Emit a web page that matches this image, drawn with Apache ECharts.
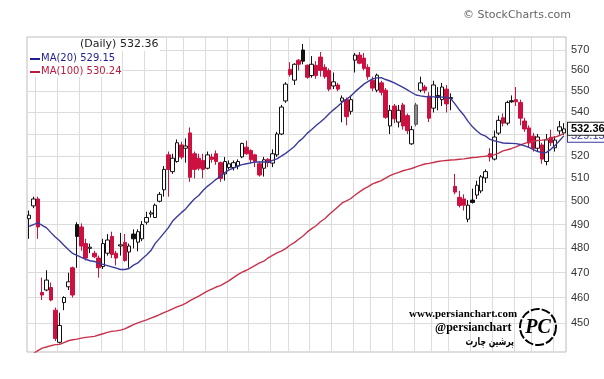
<!DOCTYPE html>
<html><head><meta charset="utf-8">
<script src="https://cdn.jsdelivr.net/npm/echarts@6/dist/echarts.min.js"></script>
<style>html,body{margin:0;padding:0;background:#fff}#c{width:604px;height:379px}</style>
</head><body><div id="c"></div>
<script>
// ---- data ----
const opens = [492.5,498,501,462,463,464,455,442.5,458,464.3,472,490,489,482,480,478,476,472.5,478,485,478,481,482.5,478.5,486,482.6,484,491,494.5,493,500,505,520.5,513,517.5,525,523.5,530.5,521,519,518,514.5,519.5,521,517,512,514.8,514.8,515.5,519.6,524,522.5,520.5,516.5,514.5,518.5,516.8,520.5,530,545.4,560.5,555.3,565,570,562.5,557.5,562.5,566.5,561.5,560,552.5,553,545.3,546,540.5,565,567.5,566,561.5,555.3,550.5,554,550.5,533.7,543,535.5,543.5,538.5,525.5,534.5,550.5,552,547.7,542,548,546,551,546.5,506.5,501.7,501,492.3,500.5,502.7,504.5,510.2,521,518.6,530.4,537.5,535,545.5,546,544.7,536,532.8,529,523.5,525,517.5,528.5,523.7,531.4,530.5];
const closes = [494,501,489,461,467,459,444,449,460,466.3,461,485,481,476,480.5,476.5,472,482,483.5,477.5,476,481.5,475,481,484,487,490,493,495,498.3,503,514,514,519,526,519.5,524.5,510.5,514,514.5,514,520.5,518.5,517.5,510,517.5,516.5,517,517.5,525.7,521,518.3,517.5,511.5,518.3,517,521,530,542.5,553.4,558,563,563,564.5,556.7,563,557.5,560,557,551,554.5,551,546.8,538,546,567.5,563.5,561,557,551.5,557.7,549.5,537.7,541,537,541,533.7,531.5,532,543.5,554,550.5,537.3,553,547,552,544,547,504,498.2,498.3,498.3,499.5,507,510.7,513,519.5,528.6,536.3,535,544.7,545,545,537.3,532.3,525.9,523.5,528.6,518.6,527.3,526,527.2,533.3,532.36];
const lows = [484,497,484,459,462.5,458.5,443,442,455,463,460,472,479,475,478,476,468,471.5,477,476,473,477,474.5,472,480,478.8,483,490,493,493,499.5,502,502,512,517,518.5,517,508.5,510,513.5,510,514,517,516,508.5,509,514,513.5,514,519,520.5,516.5,515,510.8,510.8,515,515,519.6,529.5,544.5,557,553,560,563,556,556.5,556,557,556,550,551,550,535.4,534,539,559,563,560,555.5,550,549.5,548,537,530,535,533,532,530,525,533.5,549.5,549,535.5,540,541,543,540,541,503,497.3,496,491,499,501,503.5,508,517.5,518,529.5,533.5,534,544.5,543,534,531,524,522,522,516.5,515.8,524.5,522,529.7,529.5];
const highs = [496,502,502,468,471,466,456,454,460.5,470,472.5,491,490.5,484,482,479,477,484,486,487,479,486.5,486,482,488,488,491.5,495.5,496,499,504,515.5,522,521,527.5,526.5,528,533,522,521,521,522,521,522.5,517.5,519.5,518,518,518.5,526,527,523,521,517.5,519.6,519,523,531,543.5,554.3,564,563.5,565.5,573,563,567,564.5,569,563,561,559,554,548,547,548,568.5,569,568.5,563,557,558.5,555,551.5,543.5,544,543.5,544.5,539.5,533.7,544.5,557,553,549.5,555,552,554,553,549,512,504.5,503,500.5,505.5,509,511.5,514,523.5,531.6,538.5,539.5,545.5,548,552,546,537.5,534,530.5,530,526,530,532,529,536,535];
const ma20 = [489.2,490.0,490.7,489.7,488.6,486.6,484.8,483.2,481.3,479.5,477.9,477.1,476.3,475.5,474.9,474.6,473.8,473.4,472.9,472.4,471.9,471.3,471.3,471.7,473.1,474.0,475.7,477.3,479.1,482.1,484.2,486.4,488.6,491.5,493.3,495.1,496.7,498.9,501.0,502.5,504.7,506.5,508.0,509.6,510.9,512.6,513.8,514.6,515.5,516.1,516.5,516.9,517.3,517.3,517.3,517.3,518.0,518.7,519.9,521.2,522.7,524.3,526.5,528.2,530.4,532.1,533.9,535.5,537.3,539.4,541.2,542.9,544.8,546.2,547.7,549.8,551.6,553.4,554.7,555.9,556.4,556.5,555.6,554.9,554.0,552.9,551.8,550.6,549.4,548.2,547.8,547.5,547.3,547.3,547.3,547.2,547.0,546.5,543.9,541.1,538.7,535.7,533.3,531.4,529.8,529.0,527.5,526.9,526.4,525.9,525.8,525.7,525.6,525.2,524.6,523.9,522.9,522.0,521.5,521.6,523.0,524.8,526.9,529.15];
const ma100 = [437.5,438.2,439.3,440.3,440.7,441.2,441.6,441.7,442.4,443.1,443.5,443.7,444.1,444.4,444.6,444.8,445.3,445.8,446.3,446.7,446.9,447.2,447.7,448.5,449.3,450.0,450.6,451.2,451.9,452.5,453.2,454.0,454.7,455.5,456.3,456.9,457.7,458.8,459.7,460.6,461.6,462.6,463.4,464.2,464.8,465.8,466.8,468.0,469.2,470.2,471.0,472.0,473.0,474.0,474.7,476.1,477.1,478.1,478.9,479.9,481.3,482.4,483.8,485.2,486.9,488.3,489.5,491.2,492.5,494.3,495.9,497.5,499.3,500.2,501.2,502.7,504.1,505.4,506.4,507.6,508.3,509.0,510.1,511.2,512.0,512.7,513.4,513.9,514.4,515.1,515.8,516.4,516.7,517.1,517.5,517.8,518.0,518.2,518.3,518.5,518.7,519.0,519.3,519.4,519.7,519.9,520.2,520.5,521.3,522.3,522.8,523.4,524.1,525.0,525.7,526.3,526.7,527.0,527.2,527.5,528.2,528.6,529.3,530.24];
const days = opens.map((_, i) => 'D' + (i + 1));          // trading-day categories
const weekStarts = [2,7,12,17,22,27,32,36,41,46,51,56,60,65,70,75,79,84,89,93,97,102,107,112,116,121];
const blackCandles = [11,24,63,94,102,111];
const grayCandles = [89];
const yTicks = [450,460,470,480,490,500,510,520,530,540,550,560,570];
const lastClose = '532.36', lastMa20 = '529.15', lastMa100 = '530.24';
const headerTexts = ['(Daily) ' + lastClose, 'MA(20) ' + lastMa20, 'MA(100) ' + lastMa100];

// ---- styles ----
const RED = '#cc1040', BLUE = '#3a3a9c', MARED = '#c8324c';
const weekSet = new Set(weekStarts);
const candleData = opens.map((o, i) => {
  const item = { value: [o, closes[i], lows[i], highs[i]] };
  if (blackCandles.includes(i)) item.itemStyle = { color: '#111', color0: '#111', borderColor: '#111', borderColor0: '#111' };
  if (grayCandles.includes(i)) item.itemStyle = { color: '#8a8a8a', color0: '#8a8a8a', borderColor: '#555', borderColor0: '#555' };
  return item;
});
const hidden = { color: 'rgba(0,0,0,0)', width: 0 };

const chart = echarts.init(document.getElementById('c'), null, { renderer: 'canvas' });
chart.setOption({
  animation: false,
  backgroundColor: '#fff',
  grid: { left: 27, right: 38, top: 37, bottom: 27, show: true, borderColor: '#bdbdbd', borderWidth: 1 },
  xAxis: {
    type: 'category', data: days, boundaryGap: true,
    axisLabel: { show: false }, axisTick: { show: false }, axisLine: { show: false },
    splitLine: { show: true, interval: (i) => weekSet.has(i), lineStyle: { color: '#dcdcdc', width: 1 } }
  },
  yAxis: {
    type: 'log', position: 'right', min: 438.8, max: 576.45,
    axisLabel: { show: false }, axisTick: { show: false }, axisLine: { show: false }, splitLine: { show: false }
  },
  series: [
    {
      type: 'candlestick', data: candleData, barWidth: 4,
      itemStyle: { color: '#fff', color0: RED, borderColor: '#111', borderColor0: RED, borderWidth: 1 },
      markLine: {
        silent: true, symbol: ['none', 'none'], z: 6,
        data: [{ yAxis: +lastClose, name: lastClose, lineStyle: hidden,
          label: { show: true, position: 'end', distance: 2, formatter: '{b}', color: '#000', fontWeight: 'bold', opacity: 1,
            fontFamily: 'Liberation Sans', fontSize: 11, backgroundColor: '#fff', borderColor: '#222', borderWidth: 1, padding: [1, 3, 0, 3] } }]
      }
    },
    {
      type: 'line', data: ma100, symbol: 'none', clip: true,
      lineStyle: { color: MARED, width: 1.4 },
      markLine: {
        silent: true, symbol: ['none', 'none'], z: 1,
        lineStyle: { color: '#dcdcdc', type: 'solid', width: 1 },
        label: { show: true, position: 'end', distance: 5, formatter: '{b}', color: '#333', fontFamily: 'Liberation Sans', fontSize: 11 },
        data: yTicks.map(v => ({ yAxis: v, name: String(v) }))
      }
    },
    {
      type: 'line', data: ma20, symbol: 'none', clip: true,
      lineStyle: { color: BLUE, width: 1.4 },
      markLine: {
        silent: true, symbol: ['none', 'none'], z: 4,
        data: [{ yAxis: +lastMa20, name: lastMa20, lineStyle: hidden,
          label: { show: true, position: 'end', distance: 2, formatter: '{b}', color: BLUE, fontFamily: 'Liberation Sans', fontSize: 11, opacity: 1,
            backgroundColor: '#fff', borderColor: BLUE, borderWidth: 1, padding: [1, 3, 0, 3] } }]
      }
    }
  ],
  graphic: [
    { type: 'text', left: 463, top: 10, style: { text: '© StockCharts.com', fill: '#666', font: '11px "DejaVu Sans"' } },
    { type: 'rect', shape: { x: 28, y: 38, width: 132, height: 13 }, style: { fill: '#fff' }, z: 10 },
    { type: 'rect', shape: { x: 28, y: 51, width: 92, height: 26 }, style: { fill: '#fff' }, z: 10 },
    { type: 'group', left: 30, top: 41, z: 11, children: [
      { type: 'rect', shape: { x: 0, y: 2, width: 2, height: 5 }, style: { fill: '#111' } },
      { type: 'rect', shape: { x: 3, y: 0, width: 2, height: 7 }, style: { fill: '#111' } },
      { type: 'rect', shape: { x: 6, y: 3, width: 2, height: 4 }, style: { fill: '#111' } }
    ] },
    { type: 'text', left: 80, top: 39, z: 11, style: { text: headerTexts[0], fill: '#222', font: '11px "DejaVu Sans"' } },
    { type: 'line', z: 11, shape: { x1: 30, y1: 59, x2: 40, y2: 59 }, style: { stroke: '#1f1f8f', lineWidth: 2 } },
    { type: 'text', left: 41, top: 53, z: 11, style: { text: headerTexts[1], fill: '#1f1f8f', font: '10px "DejaVu Sans"' } },
    { type: 'line', z: 11, shape: { x1: 30, y1: 72, x2: 40, y2: 72 }, style: { stroke: '#c0183c', lineWidth: 2 } },
    { type: 'text', left: 41, top: 66, z: 11, style: { text: headerTexts[2], fill: '#c0183c', font: '10px "DejaVu Sans"' } },
    { type: 'text', left: 409, top: 309, z: 11, style: { text: 'www.persianchart.com', fill: '#000', font: 'bold 11px "Liberation Serif"' } },
    { type: 'text', left: 435, top: 322, z: 11, style: { text: '@persianchart', fill: '#000', font: 'bold 12px "Liberation Serif"' } },
    { type: 'text', x: 514, y: 342, scaleX: 0.7, z: 11, style: { text: 'پرشین چارت', fill: '#000', font: 'bold 11px "DejaVu Sans"', align: 'right', verticalAlign: 'middle' } },
    { type: 'circle', z: 11, shape: { cx: 538, cy: 327, r: 18 }, style: { fill: 'none', stroke: '#000', lineWidth: 2, lineDash: [9, 2] } },
    { type: 'text', x: 538, y: 328, z: 11, style: { text: 'PC', fill: '#000', font: 'italic bold 20px "Liberation Serif"', align: 'center', verticalAlign: 'middle' } }
  ]
});
</script></body></html>
